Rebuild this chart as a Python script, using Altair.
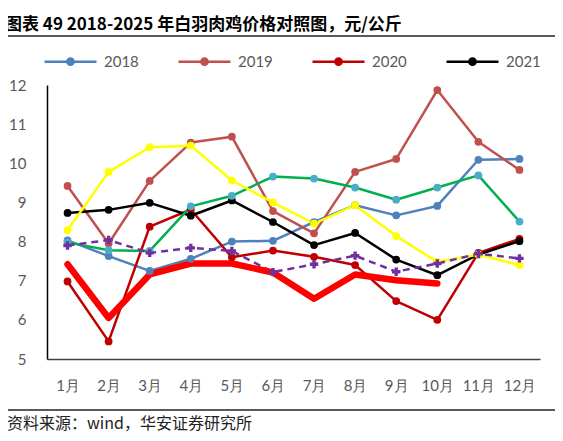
import altair as alt
import pandas as pd

months = ["1月", "2月", "3月", "4月", "5月", "6月", "7月", "8月", "9月", "10月", "11月", "12月"]
series = ["2018", "2019", "2020", "2021", "2022", "2023", "2024", "2025"]

s2018 = [8.03, 7.63, 7.25, 7.56, 8.00, 8.02, 8.50, 8.93, 8.67, 8.91, 10.09, 10.11]
s2019 = [9.42, 7.95, 9.55, 10.53, 10.68, 8.78, 8.21, 9.78, 10.11, 11.87, 10.55, 9.83]
s2020 = [6.98, 5.45, 8.38, 8.82, 7.60, 7.77, 7.61, 7.40, 6.48, 6.00, 7.71, 8.07]
s2021 = [8.73, 8.81, 8.99, 8.66, 9.05, 8.50, 7.91, 8.22, 7.54, 7.14, 7.67, 8.01]
s2022 = [7.98, 7.78, 7.76, 8.90, 9.17, 9.66, 9.61, 9.38, 9.07, 9.38, 9.69, 8.51]
s2023 = [8.29, 9.78, 10.41, 10.45, 9.56, 9.00, 8.46, 8.93, 8.14, 7.48, 7.67, 7.40]
s2024 = [7.90, 8.04, 7.71, 7.84, 7.76, 7.22, 7.42, 7.64, 7.23, 7.44, 7.69, 7.57]
s2025 = [7.42, 6.05, 7.16, 7.44, 7.44, 7.21, 6.54, 7.16, 7.01, 6.93]

y_ticks = [5, 6, 7, 8, 9, 10, 11, 12]
legend_values = ["2018", "2019", "2020", "2021"]
title_text = "图表 49 2018-2025 年白羽肉鸡价格对照图，元/公斤"
source_text = "资料来源：wind，华安证券研究所"

line_series = ["2018", "2019", "2020", "2021", "2022", "2023", "2024", "2025"]
line_colors = ["#4F81BD", "#C0504D", "#C00000", "#000000", "#00B050", "#FFFF00", "#7030A0", "#FF0000"]
dot_series = ["2018", "2019", "2020", "2021", "2022", "2023"]
dot_colors = ["#4F81BD", "#C0504D", "#C00000", "#000000", "#4BACC6", "#FFFF00"]

rows = []
for name, vals in zip(series, [s2018, s2019, s2020, s2021, s2022, s2023, s2024, s2025]):
    for m, v in zip(months, vals):
        rows.append({"series": name, "month": m, "value": v})
df = pd.DataFrame(rows)

x_axis = alt.Axis(title=None, labelAngle=0, ticks=False, tickSize=0, grid=False,
                  domainColor="#404040", domainWidth=1.5, labelPadding=19,
                  labelOverlap=False,
                  labelFont="Lato", labelFontSize=15, labelColor="#595959")
y_axis = alt.Axis(title=None, values=y_ticks, tickCount=8, ticks=False, tickSize=0, grid=False,
                  domainColor="#000000", domainWidth=1.5, labelPadding=21,
                  labelOverlap=False, labelBound=False,
                  labelFont="Lato", labelFontSize=15, labelColor="#595959")
x_scale = alt.Scale(type="point", padding=0.5)
y_scale = alt.Scale(domain=[5, 12], nice=False, zero=False)


def xe():
    return alt.X("month:O", sort=months, scale=x_scale, axis=x_axis)


def ye():
    return alt.Y("value:Q", scale=y_scale, axis=y_axis)


legend_path = ("M-1,0L1,0 "
               "M0.12,0A0.12,0.12,0,1,1,-0.12,0A0.12,0.12,0,1,1,0.12,0Z "
               "M0.05,0A0.05,0.05,0,1,1,-0.05,0A0.05,0.05,0,1,1,0.05,0Z")

main_lines = alt.Chart(df).transform_filter(
    alt.FieldOneOfPredicate(field="series", oneOf=dot_series)
).mark_line(strokeWidth=2.5, strokeJoin="round", strokeCap="round").encode(
    x=xe(),
    y=ye(),
    color=alt.Color("series:N", title=None,
                    scale=alt.Scale(domain=line_series, range=line_colors),
                    legend=alt.Legend(orient="none", legendX=-4, legendY=-51, direction="horizontal",
                                      values=legend_values, symbolType=legend_path, symbolSize=2704,
                                      symbolStrokeWidth=2.5, symbolOpacity=1,
                                      labelFont="Lato", labelFontSize=15, labelColor="#595959",
                                      labelOffset=6, columnPadding=34, padding=0)),
)

line_2024 = alt.Chart(df).transform_filter(alt.datum.series == "2024").mark_line(
    color="#7030A0", strokeWidth=2.5, strokeDash=[7, 5]
).encode(x=xe(), y=ye())

line_2025 = alt.Chart(df).transform_filter(alt.datum.series == "2025").mark_line(
    color="#FF0000", strokeWidth=6.5, strokeJoin="round", strokeCap="round"
).encode(x=xe(), y=ye())

dots = alt.Chart(df).transform_filter(
    alt.FieldOneOfPredicate(field="series", oneOf=dot_series)
).mark_circle(opacity=1, size=60).encode(
    x=xe(),
    y=ye(),
    fill=alt.Fill("series:N", scale=alt.Scale(domain=dot_series, range=dot_colors), legend=None),
)

crosses_2024 = alt.Chart(df).transform_filter(alt.datum.series == "2024").mark_point(
    shape="cross", filled=True, opacity=1, size=70, color="#7030A0"
).encode(x=xe(), y=ye())

one = pd.DataFrame({"t": [title_text]})
title_mark = alt.Chart(one).mark_text(
    align="left", baseline="middle", font="Noto Sans CJK SC", fontWeight="bold",
    fontSize=17, color="#000000"
).encode(text="t:N", x=alt.value(-42), y=alt.value(-60))

title_rule = alt.Chart(one).mark_rule(color="#222222", strokeWidth=1.5).encode(
    x=alt.value(-42), x2=alt.value(512), y=alt.value(-49))

src = pd.DataFrame({"t": [source_text]})
source_rule = alt.Chart(src).mark_rule(color="#222222", strokeWidth=1.5).encode(
    x=alt.value(-42), x2=alt.value(512), y=alt.value(325))
source_mark = alt.Chart(src).mark_text(
    align="left", baseline="middle", font="Noto Sans CJK SC", fontSize=16, color="#222222"
).encode(text="t:N", x=alt.value(-40), y=alt.value(339))

chart = alt.layer(
    main_lines, line_2024, line_2025, dots, crosses_2024,
    title_mark, title_rule, source_rule, source_mark
).properties(
    width=493, height=274,
    padding={"left": 39, "top": 77, "right": 15, "bottom": 74},
    autosize="none",
).configure_view(stroke=None)

chart.save("out.html", embed_options={"renderer": "svg", "actions": False})
